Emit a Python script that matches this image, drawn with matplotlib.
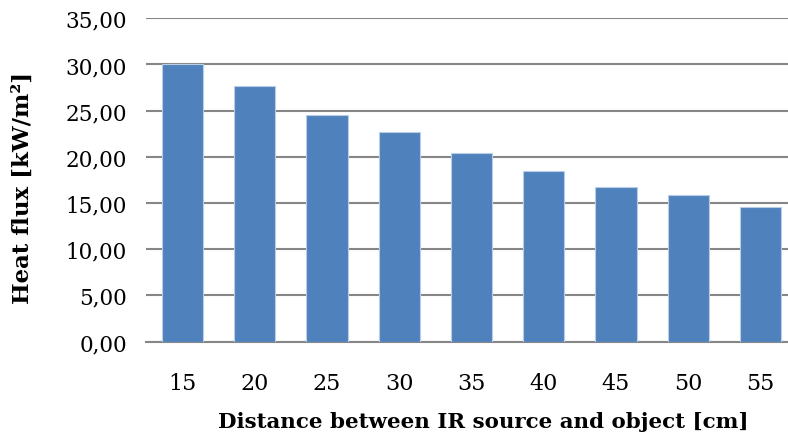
import matplotlib
matplotlib.use("Agg")
import matplotlib.pyplot as plt
from matplotlib.ticker import FuncFormatter, MultipleLocator

distances = ["15", "20", "25", "30", "35", "40", "45", "50", "55"]
heat_flux = [30.0, 27.7, 24.5, 22.65, 20.4, 18.5, 16.75, 15.9, 14.6]

plt.rcParams['font.family'] = ['DejaVu Serif']

W, H = 788, 439
fig = plt.figure(figsize=(W/100, H/100), dpi=100)
left, right = 146.4, 796.6
bottom, top = 342.5, 19.3
aw, ah = right - left, bottom - top
ax = fig.add_axes([left/W, 1 - bottom/H, aw/W, ah/H])

x = list(range(len(distances)))
ax.bar(x, heat_flux, width=0.57, color='#4F81BD', edgecolor='#B9CDE5', linewidth=0.8, zorder=3)

ax.set_xlim(-0.5, len(distances) - 0.5)
ax.set_ylim(0, 35)
ax.yaxis.set_major_locator(MultipleLocator(5))
ax.yaxis.set_major_formatter(FuncFormatter(lambda v, p: f"{v:.2f}".replace('.', ',')))
ax.set_xticks(x)
ax.set_xticklabels(distances)
ax.grid(axis='y', color='#868686', linewidth=1.5, zorder=0)
for s in ['left', 'right', 'top']:
    ax.spines[s].set_visible(False)
ax.spines['bottom'].set_color('#868686')
ax.spines['bottom'].set_linewidth(1.5)
ax.tick_params(axis='both', length=0, colors='black')
ax.tick_params(axis='y', pad=14, labelsize=15.5)
ax.tick_params(axis='x', pad=22, labelsize=16)
ax.set_xlabel('Distance between IR source and object [cm]', fontsize=15.4, fontweight='bold')
ax.set_ylabel('Heat flux [kW/m²]', fontsize=16.5, fontweight='bold')
ax.xaxis.label.set_va('center')
ax.yaxis.label.set_va('center')
ax.xaxis.set_label_coords((483 - left) / aw, (bottom - 422) / ah)
ax.yaxis.set_label_coords((23 - left) / aw, (bottom - 188) / ah)

fig.savefig('out.png', dpi=100)
